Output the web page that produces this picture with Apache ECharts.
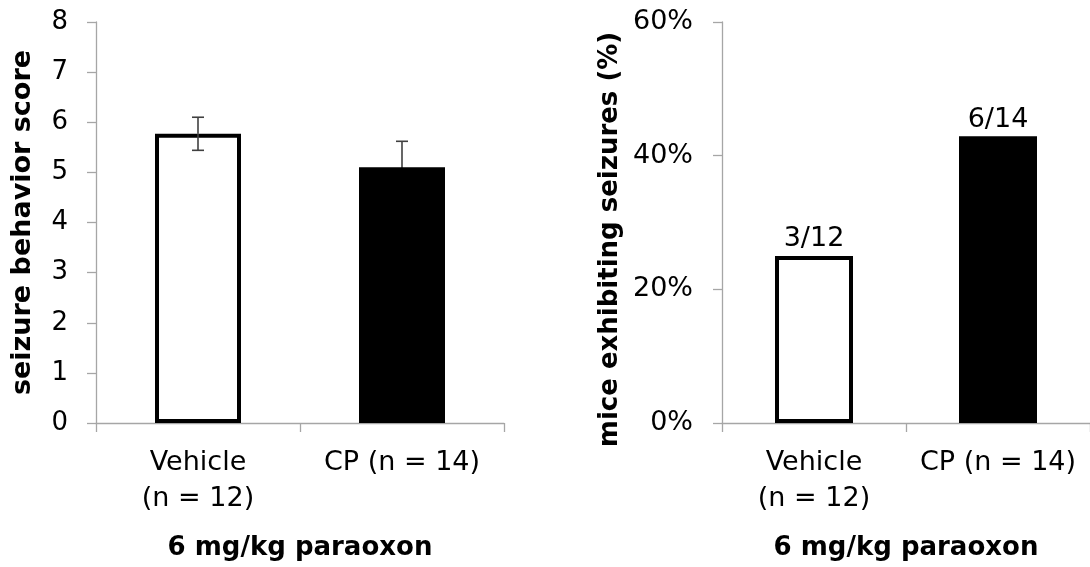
<!DOCTYPE html>
<html>
<head>
<meta charset="utf-8">
<script src="https://cdn.jsdelivr.net/npm/echarts@6/dist/echarts.min.js"></script>
<style>
  html, body { margin: 0; padding: 0; background: #ffffff; }
  #chart { width: 1090px; height: 567px; }
</style>
</head>
<body>
<div id="chart"></div>
<script>
// ---- data ----
const categories = ['Vehicle\n(n = 12)', 'CP (n = 14)'];
const scoreMeans = [5.77, 5.10];
const scoreErrors = [0.33, 0.52];
const seizurePercent = [25.0, 42.9];
const seizureCounts = ['3/12', '6/14'];
const leftYAxisName = 'seizure behavior score';
const rightYAxisName = 'mice exhibiting seizures (%)';
const xAxisName = '6 mg/kg paraoxon';

// ---- styles ----
const FONT = 'DejaVu Sans';
const AXIS_GRAY = '#a6a6a6';
const barStyles = [
  { color: '#ffffff', borderColor: '#000000', borderWidth: 4 },
  { color: '#000000', borderColor: '#000000', borderWidth: 2 }
];
const errorBarColors = ['#404040', '#000000'];

const errorData = scoreMeans.map((m, i) => [i, m - scoreErrors[i], m + scoreErrors[i]]);

function axisLineStyle() {
  return { show: true, lineStyle: { color: AXIS_GRAY, width: 1.3 } };
}

const chart = echarts.init(document.getElementById('chart'), null, { renderer: 'canvas' });

const option = {
  backgroundColor: '#ffffff',
  animation: false,
  grid: [
    { left: 96, top: 22, width: 408, height: 401 },
    { left: 722, top: 22, width: 371, height: 401 }
  ],
  xAxis: [0, 1].map(gi => ({
    type: 'category',
    gridIndex: gi,
    data: categories,
    boundaryGap: true,
    axisLine: axisLineStyle(),
    axisTick: { show: true, length: 9, inside: false, lineStyle: { color: AXIS_GRAY, width: 1.3 } },
    axisLabel: {
      color: '#000', fontFamily: FONT, fontSize: 27, lineHeight: 36, margin: 22, interval: 0
    },
    name: xAxisName,
    nameLocation: 'middle',
    nameGap: 112,
    nameTextStyle: { color: '#000', fontFamily: FONT, fontSize: 26, fontWeight: 'bold' },
    splitLine: { show: false }
  })),
  yAxis: [
    {
      type: 'value', gridIndex: 0, min: 0, max: 8, interval: 1,
      axisLine: axisLineStyle(),
      axisTick: { show: true, length: 9, lineStyle: { color: AXIS_GRAY, width: 1.3 } },
      axisLabel: { color: '#000', fontFamily: FONT, fontSize: 26, margin: 28 },
      splitLine: { show: false },
      name: leftYAxisName, nameLocation: 'middle', nameGap: 60,
      nameTextStyle: { color: '#000', fontFamily: FONT, fontSize: 27, fontWeight: 'bold' }
    },
    {
      type: 'value', gridIndex: 1, min: 0, max: 60, interval: 20,
      axisLine: axisLineStyle(),
      axisTick: { show: true, length: 9, lineStyle: { color: AXIS_GRAY, width: 1.3 } },
      axisLabel: { color: '#000', fontFamily: FONT, fontSize: 27, margin: 29, formatter: '{value}%' },
      splitLine: { show: false },
      name: rightYAxisName, nameLocation: 'middle', nameGap: 99,
      nameTextStyle: { color: '#000', fontFamily: FONT, fontSize: 26, fontWeight: 'bold', padding: [0, 34, 0, 0] }
    }
  ],
  series: [
    {
      type: 'bar', xAxisIndex: 0, yAxisIndex: 0, barWidth: 86,
      data: scoreMeans.map((v, i) => ({ value: v, itemStyle: barStyles[i] })),
      z: 2
    },
    {
      type: 'custom', xAxisIndex: 0, yAxisIndex: 0, z: 3,
      data: errorData,
      encode: { x: 0, y: [1, 2] },
      renderItem: function (params, api) {
        const idx = api.value(0);
        const lo = api.coord([idx, api.value(1)]);
        const hi = api.coord([idx, api.value(2)]);
        const half = 6;
        const st = { stroke: errorBarColors[params.dataIndex], lineWidth: 1.6 };
        const stTop = { stroke: '#404040', lineWidth: 1.6 };
        const mid = api.coord([idx, (api.value(1) + api.value(2)) / 2]);
        return {
          type: 'group',
          children: [
            { type: 'line', shape: { x1: mid[0], y1: mid[1], x2: hi[0], y2: hi[1] }, style: stTop },
            { type: 'line', shape: { x1: hi[0] - half, y1: hi[1], x2: hi[0] + half, y2: hi[1] }, style: stTop },
            { type: 'line', shape: { x1: lo[0], y1: lo[1], x2: mid[0], y2: mid[1] }, style: st },
            { type: 'line', shape: { x1: lo[0] - half, y1: lo[1], x2: lo[0] + half, y2: lo[1] }, style: st }
          ]
        };
      }
    },
    {
      type: 'bar', xAxisIndex: 1, yAxisIndex: 1, barWidth: 78,
      data: seizurePercent.map((v, i) => ({ value: v, itemStyle: barStyles[i] })),
      label: {
        show: true, position: 'top', distance: 3,
        color: '#000', fontFamily: FONT, fontSize: 27,
        formatter: p => seizureCounts[p.dataIndex]
      }
    }
  ]
};

chart.setOption(option);
</script>
</body>
</html>
